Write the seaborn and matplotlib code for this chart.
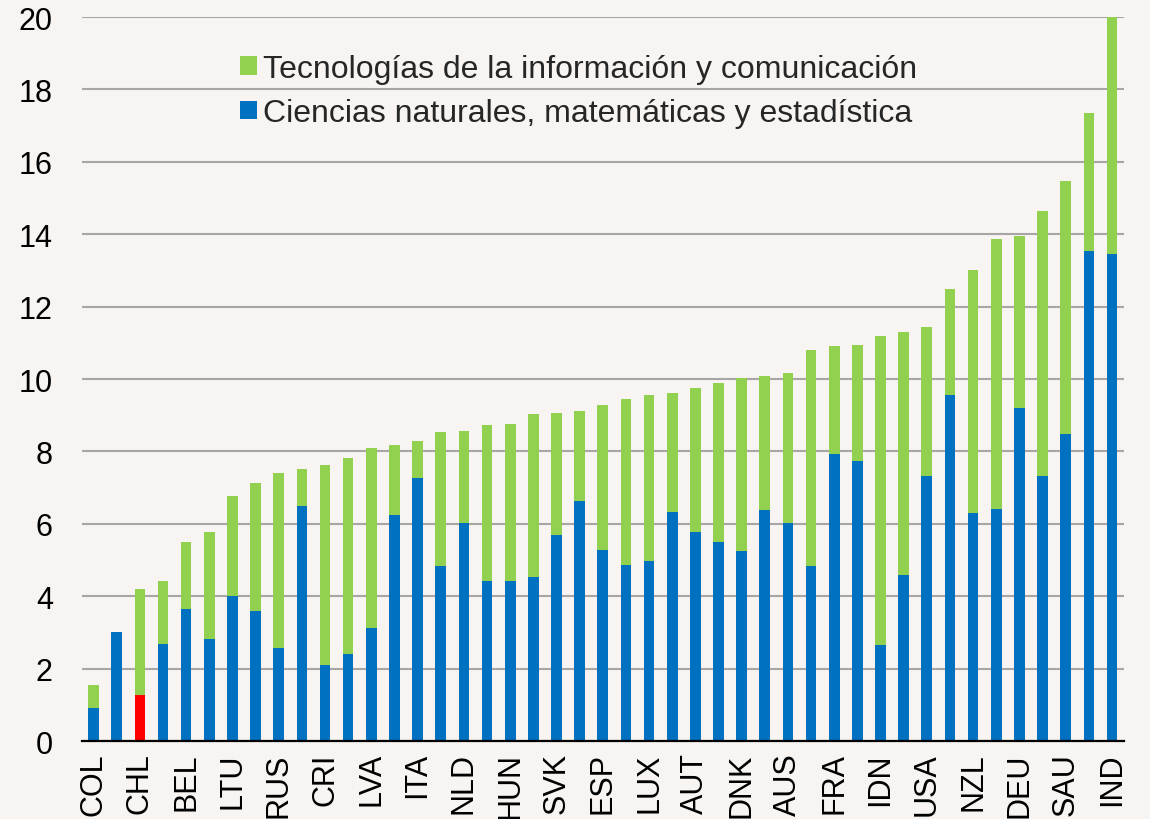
import numpy as np
import pandas as pd
import matplotlib
matplotlib.use("Agg")
import matplotlib.pyplot as plt
import seaborn as sns
from matplotlib.patches import Patch

# Countries in chart order (only every other one is labelled on the axis)
countries = ["COL", "JPN", "CHL", "BRA", "BEL", "NOR", "LTU", "POL", "RUS", "GRC",
             "CRI", "TUR", "LVA", "CZE", "ITA", "SVN", "NLD", "PRT", "HUN", "ISR",
             "SVK", "CHE", "ESP", "SWE", "LUX", "ISL", "AUT", "CAN", "DNK", "KOR",
             "AUS", "EST", "FRA", "FIN", "IDN", "MEX", "USA", "GBR", "NZL", "IRL",
             "DEU", "ARG", "SAU", "CHN", "IND"]

# Ciencias naturales, matemáticas y estadística (lower segment)
ciencias = [0.90, 3.02, 1.26, 2.67, 3.64, 2.81, 4.00, 3.59, 2.58, 6.49,
            2.10, 2.40, 3.12, 6.25, 7.26, 4.83, 6.03, 4.42, 4.42, 4.53,
            5.70, 6.63, 5.27, 4.87, 4.97, 6.33, 5.77, 5.50, 5.26, 6.38,
            6.01, 4.83, 7.92, 7.74, 2.66, 4.60, 7.31, 9.56, 6.30, 6.41,
            9.20, 7.32, 8.49, 13.55, 13.45]

# Total (ciencias + tecnologías de la información y comunicación)
total = [1.54, 3.02, 4.21, 4.42, 5.51, 5.78, 6.77, 7.14, 7.40, 7.51,
         7.63, 7.81, 8.09, 8.19, 8.28, 8.53, 8.56, 8.72, 8.76, 9.03,
         9.06, 9.12, 9.27, 9.45, 9.56, 9.61, 9.74, 9.90, 10.04, 10.08,
         10.17, 10.80, 10.90, 10.94, 11.18, 11.30, 11.43, 12.49, 13.02, 13.88,
         13.94, 14.63, 15.48, 17.34, 20.00]

highlight = "CHL"

GREEN = "#92D050"
BLUE = "#0070C0"
RED = "#FF0000"
BG = "#F7F4F1"

sns.set_theme(style="white")
plt.rcParams["font.family"] = ["Liberation Sans", "DejaVu Sans"]

df = pd.DataFrame({"pais": countries, "ciencias": ciencias, "total": total})

fig = plt.figure(figsize=(11.5, 8.2), dpi=100, facecolor=BG)
ax = fig.add_axes([0.0713, 0.0951, 0.9057, 0.8829])
ax.set_facecolor(BG)
ax.set_axisbelow(True)

# green = total behind, blue (red for Chile) drawn over it
sns.barplot(data=df, x="pais", y="total", order=countries, color=GREEN,
            saturation=1, width=0.46, linewidth=0, ax=ax)
palette = {c: (RED if c == highlight else BLUE) for c in countries}
sns.barplot(data=df, x="pais", y="ciencias", order=countries, hue="pais",
            palette=palette, legend=False, dodge=False, saturation=1,
            width=0.46, linewidth=0, ax=ax)

ax.set_xlim(-0.5, len(countries) - 0.5)
ax.set_ylim(0, 20)
ax.set_yticks(np.arange(0, 21, 2))
ax.set_xticks(range(0, len(countries), 2))
ax.set_xticklabels(countries[::2], rotation=90)
ax.set_xlabel("")
ax.set_ylabel("")

ax.yaxis.grid(True, color="#A6A6A6", linewidth=1.5)
ax.tick_params(axis="y", length=0, labelsize=22, pad=21, labelcolor="black")
ax.tick_params(axis="x", length=0, labelsize=22, pad=8, labelcolor="black")

for s in ["top", "right", "left"]:
    ax.spines[s].set_visible(False)
ax.spines["bottom"].set_color("black")
ax.spines["bottom"].set_linewidth(1.6)

handles = [Patch(facecolor=GREEN, edgecolor="none"),
           Patch(facecolor=BLUE, edgecolor="none")]
labels = ["Tecnologías de la información y comunicación",
          "Ciencias naturales, matemáticas y estadística"]
ax.legend(handles, labels, loc="upper left", bbox_to_anchor=(0.152, 0.949),
          frameon=False, fontsize=23, handlelength=0.52, handleheight=0.52,
          handletextpad=0.2, labelspacing=0.45, borderpad=0, borderaxespad=0)

fig.savefig("out.png", dpi=100, facecolor=BG)
